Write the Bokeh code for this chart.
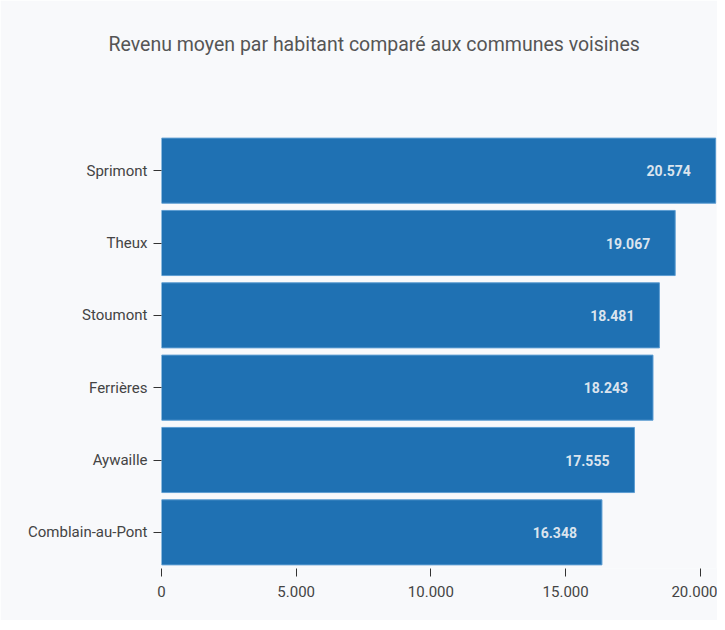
from bokeh.plotting import figure
from bokeh.models import ColumnDataSource, FixedTicker, Title
from bokeh.embed import file_html
from bokeh.resources import INLINE
from bokeh.core.properties import value

communes = ["Sprimont", "Theux", "Stoumont", "Ferrières", "Aywaille", "Comblain-au-Pont"]
revenus = [20574, 19067, 18481, 18243, 17555, 16348]
labels = ["20.574", "19.067", "18.481", "18.243", "17.555", "16.348"]
x_ticks = [0, 5000, 10000, 15000, 20000]
x_tick_labels = ["0", "5.000", "10.000", "15.000", "20.000"]
title_text = "Revenu moyen par habitant comparé aux communes voisines"

bg = "#f8f9fb"
font = "Roboto"

src = ColumnDataSource(dict(commune=communes, revenu=revenus, label=labels))

p = figure(
    title=None,
    y_range=list(reversed(communes)),
    x_range=(0, 20600),
    width=717, height=620,
    output_backend="svg", toolbar_location=None,
    min_border_left=161, min_border_right=1, min_border_top=134, min_border_bottom=52,
    background_fill_color=bg, border_fill_color=bg,
)
# spacer between title and plot area (nearest to the frame), then the title itself
p.add_layout(Title(text=" ", text_font_size="1px", standoff=71), "above")
p.add_layout(Title(text=title_text, text_font=font, text_font_size="19.5px",
                   text_color="#555555", text_font_style="normal",
                   align="left", offset=-53, standoff=10), "above")

p.hbar(y="commune", right="revenu", left=0, height=0.9, source=src,
       fill_color="#1f71b3", line_color="#5d9dd2", line_width=1)

p.text(x="revenu", y="commune", text="label", source=src,
       x_offset=-25, text_align="right", text_baseline="middle",
       text_font=value(font), text_font_size="14px", text_font_style="bold",
       text_color="#dbe4ee")

p.xaxis.ticker = FixedTicker(ticks=x_ticks)
p.xaxis.major_label_overrides = dict(zip(x_ticks, x_tick_labels))
for ax in (p.xaxis, p.yaxis):
    ax.axis_line_color = None
    ax.major_tick_line_color = "#333333"
    ax.minor_tick_line_color = None
    ax.major_label_text_font = font
    ax.major_label_text_font_size = "15px"
    ax.major_label_text_color = "#444444"
    ax.major_tick_in = 0
    ax.major_tick_out = 8
p.xaxis.major_label_standoff = 9
p.yaxis.major_label_standoff = 6
p.grid.grid_line_color = None
p.outline_line_color = None

open("out.html", "w").write(file_html(p, INLINE))
